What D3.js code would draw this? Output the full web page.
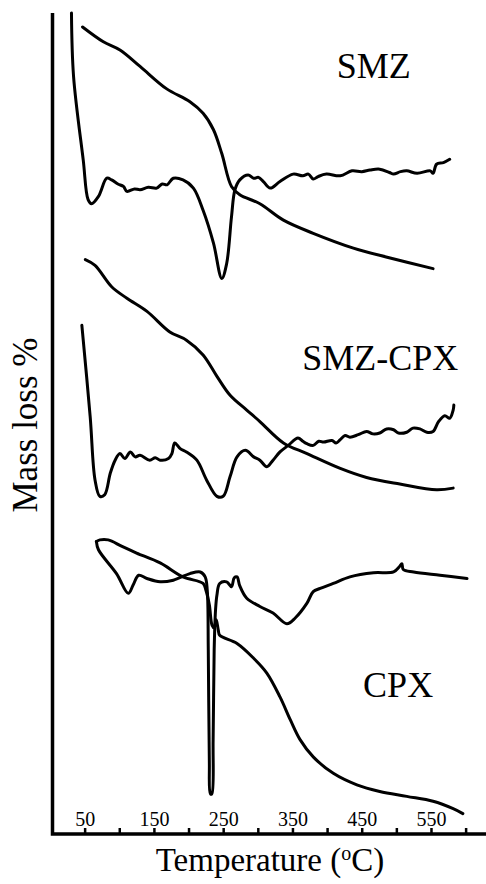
<!DOCTYPE html>
<html>
<head>
<meta charset="UTF-8">
<title>TGA / DTA</title>
<style>
  body { margin: 0; background: #fff; }
  svg { display: block; }
</style>
</head>
<body>
<svg width="486" height="884"></svg>
<script src="https://cdn.jsdelivr.net/npm/d3@7"></script>
<script>
// temperature (°C) vs signal (arbitrary, 0-100 over the plot height)
var smzTga = [[47,98.3],[77,96.5],[101,95.5],[130,93.5],[168,90.8],[202,89.2],[221,87.8],[236,85.8],
  [248,82.9],[262,78.9],[274,77.9],[303,76.8],[337,74.8],[380,73.2],[438,71.4],[491,70.2],[553,68.9]];
var smzDta = [[31,100],[34,92.3],[48,82.1],[55,77.3],[60,76.8],[70,77.7],[82,79.9],[89,79.7],[98,79.2],
  [106,78.9],[111,78.3],[122,78.6],[130,78.5],[142,78.8],[154,78.7],[162,79.2],[169,79.1],[178,79.9],
  [192,79.7],[207,78.7],[221,76.0],[236,72.0],[248,67.7],[255,69.5],[262,75.2],[267,78.5],[274,79.7],
  [286,80.3],[294,79.9],[301,80.0],[308,79.5],[318,78.7],[332,79.5],[351,80.4],[365,80.2],[373,80.4],
  [380,79.8],[387,80.1],[399,80.4],[419,80.2],[436,80.8],[450,80.7],[462,80.9],[476,81.0],[490,80.6],
  [496,80.4],[506,80.7],[515,80.8],[530,80.5],[549,80.8],[553,80.5],[558,81.6],[568,81.8],[577,82.2]];
var mixTga = [[51,70.0],[65,69.3],[89,66.7],[111,65.3],[140,63.7],[173,61.2],[197,60.2],[221,58.4],
  [241,55.8],[260,53.5],[284,51.7],[303,50.3],[337,47.7],[371,46.4],[419,44.6],[457,43.5],[505,42.7],
  [558,42.0],[582,42.2]];
var mixDta = [[46,62.0],[58,50.9],[65,43.2],[72,41.2],[79,41.4],[87,44.0],[94,45.6],[101,46.4],[108,45.8],
  [116,46.6],[123,46.0],[130,46.2],[144,45.6],[152,45.9],[159,45.6],[171,45.8],[176,46.4],[180,47.7],
  [188,47.0],[197,46.6],[212,45.6],[226,43.2],[241,41.2],[250,41.2],[260,43.6],[270,46.0],[282,46.8],
  [294,46.0],[303,45.6],[313,44.8],[322,45.6],[332,46.6],[344,47.4],[358,48.3],[365,47.9],[371,47.6],
  [380,47.4],[388,47.9],[395,47.8],[407,48.0],[413,47.7],[419,48.1],[426,48.6],[433,48.4],[445,48.7],
  [457,49.1],[466,48.8],[476,48.9],[486,49.4],[496,49.3],[503,48.9],[515,49.0],[524,49.5],[534,49.4],
  [544,49.0],[553,49.1],[561,50.3],[570,51.0],[577,50.7],[582,51.7],[583,52.3]];
var cpxTga = [[67,35.7],[72,35.9],[84,35.9],[104,35.1],[125,34.3],[159,33.1],[192,31.4],[221,30.6],
  [225,29.8],[230,28.0],[234,25.5],[237,25.2],[240,26.2],[243,24.9],[245,24.3],[270,23.3],[294,21.5],
  [313,19.7],[332,16.8],[347,14.0],[361,11.6],[380,9.5],[409,7.5],[443,6.1],[476,5.3],[515,4.7],
  [553,4.1],[582,3.2],[596,2.6]];
var cpxDta = [[67,35.7],[70,34.7],[96,31.8],[113,29.4],[120,30.4],[128,31.6],[140,31.2],[159,30.8],
  [178,31.0],[202,31.8],[217,32.0],[224,31.4],[227,29.8],[228.5,22.5],[230,9.1],[231.6,5.0],[233.6,5.0],
  [235.5,11.6],[237,22.5],[239,27.4],[241,29.2],[245,30.6],[255,30.8],[262,30.2],[266,31.3],[270,31.4],
  [274,30.3],[284,28.8],[303,27.8],[322,27.0],[342,25.7],[354,26.4],[371,28.2],[380,29.6],[390,30.0],
  [409,30.6],[433,31.4],[467,31.9],[496,32.0],[504,32.6],[508,33.0],[510,32.3],[525,32.0],[563,31.6],
  [602,31.2]];

var tickValues = [50,100,150,200,250,300,350,400,450,500,550,600];
var tickLabels = [50,150,250,350,450,550];
var sampleNames = ["SMZ","SMZ-CPX","CPX"];
var nameAt = [[414,92.1],[364,56.6],[452,16.8]];

var svg = d3.select("svg");
var font = "'Liberation Serif', 'Times New Roman', serif";

var x = d3.scaleLinear().domain([0,630]).range([50,486.4]);
var y = d3.scaleLinear().domain([0,100]).range([835,13]);

var line = d3.line()
  .x(function(d){ return x(d[0]); })
  .y(function(d){ return y(d[1]); })
  .curve(d3.curveCatmullRom.alpha(0.5));

var curves = [smzTga, smzDta, mixTga, mixDta, cpxTga, cpxDta];
svg.append("g").selectAll("path")
  .data(curves)
  .join("path")
  .attr("d", line)
  .attr("fill","none")
  .attr("stroke","#000")
  .attr("stroke-width",3)
  .attr("stroke-linejoin","round")
  .attr("stroke-linecap","round");

// axes
var xAxis = d3.axisTop(x)
  .tickValues(tickValues)
  .tickSize(6)
  .tickPadding(2)
  .tickSizeOuter(0)
  .tickFormat(function(d){ return tickLabels.indexOf(d) >= 0 ? d : ""; });

var gx = svg.append("g").attr("transform","translate(0,834)").call(xAxis);
gx.select(".domain").remove();
gx.selectAll(".tick line").attr("stroke","#000").attr("stroke-width",2.5);
gx.selectAll(".tick text").attr("fill","#000").style("font-family",font).style("font-size","20px");

svg.append("path")
  .attr("d","M52.5,13V834H486")
  .attr("fill","none")
  .attr("stroke","#000")
  .attr("stroke-width",3.5);

// titles
var xt = svg.append("text")
  .attr("x",270).attr("y",871)
  .attr("text-anchor","middle")
  .style("font-family",font).style("font-size","33px");
xt.append("tspan").text("Temperature (");
xt.append("tspan").attr("dy",-11).style("font-size","20px").text("o");
xt.append("tspan").attr("dy",11).text("C)");

svg.append("text")
  .attr("transform","translate(37,425) rotate(-90)")
  .attr("text-anchor","middle")
  .style("font-family",font).style("font-size","35px")
  .text("Mass loss %");

svg.append("g").selectAll("text")
  .data(sampleNames)
  .join("text")
  .attr("x",function(d,i){ return x(nameAt[i][0]); })
  .attr("y",function(d,i){ return y(nameAt[i][1]); })
  .style("font-family",font).style("font-size","36px")
  .text(function(d){ return d; });
</script>
</body>
</html>
